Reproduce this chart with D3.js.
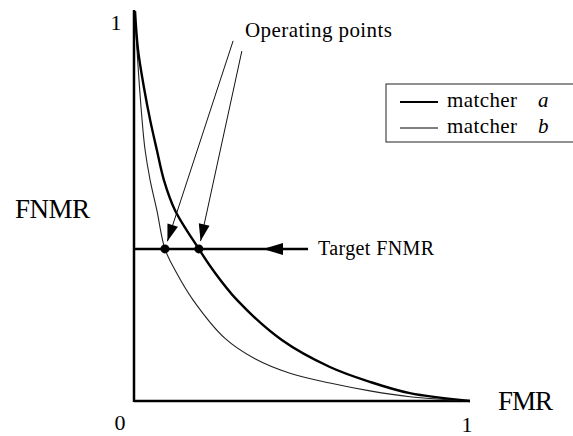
<!DOCTYPE html>
<html><head><meta charset="utf-8">
<script src="https://cdn.jsdelivr.net/npm/d3@7"></script>
<style>body{margin:0;background:#fff}svg{display:block}text{font-family:"Liberation Serif","Times New Roman",serif;fill:#000}</style>
</head><body><svg id="c" width="573" height="436"></svg>
<script>
// FMR (x) and FNMR (y) samples
const fmrA  = [0.003,0.012,0.030,0.048,0.068,0.089,0.122,0.193,0.235,0.307,0.440,0.583,0.702,0.821,1.0];
const fnmrA = [0.997,0.898,0.800,0.719,0.642,0.565,0.488,0.389,0.335,0.258,0.156,0.087,0.049,0.020,0.0];
const fmrB  = [0.003,0.009,0.024,0.033,0.048,0.068,0.092,0.122,0.176,0.271,0.360,0.464,0.583,0.702,0.821,1.0];
const fnmrB = [0.997,0.898,0.719,0.642,0.565,0.488,0.389,0.335,0.258,0.160,0.108,0.071,0.046,0.026,0.011,0.0];
const seriesNames = ["a","b"];
const targetFNMR = 0.389;
const operatingFMR = [0.092,0.193];
const xTickLabels = ["0","1"];
const yTickLabels = ["1"];
const labelStarts = [[0.295,0.921],[0.321,0.895]];

const svg = d3.select("#c");
const x = d3.scaleLinear().domain([0,1]).range([134,470]);
const y = d3.scaleLinear().domain([0,1]).range([401,10]);

// axes
svg.append("line").attr("x1",x(0)).attr("x2",x(0)).attr("y1",y(0)+1).attr("y2",y(1)).attr("stroke","#000").attr("stroke-width",2.5);
svg.append("line").attr("x1",x(0)).attr("x2",x(1)).attr("y1",y(0)).attr("y2",y(0)).attr("stroke","#000").attr("stroke-width",2.5);

const line = d3.line().x(d=>x(d[0])).y(d=>y(d[1])).curve(d3.curveCatmullRom.alpha(0.5));
svg.append("path").datum(fmrB.map((v,i)=>[v,fnmrB[i]])).attr("d",line).attr("fill","none").attr("stroke","#222").attr("stroke-width",1.1);
svg.append("path").datum(fmrA.map((v,i)=>[v,fnmrA[i]])).attr("d",line).attr("fill","none").attr("stroke","#000").attr("stroke-width",2.4);

// target line
const tEnd = 0.518;
svg.append("line").attr("x1",x(0)).attr("x2",x(tEnd)).attr("y1",y(targetFNMR)).attr("y2",y(targetFNMR)).attr("stroke","#000").attr("stroke-width",2.5);
function arrowHead(tx,ty,fx,fy,len,half){
  const a=Math.atan2(ty-fy,tx-fx);
  const bx=tx-len*Math.cos(a), by=ty-len*Math.sin(a);
  const px=-Math.sin(a)*half, py=Math.cos(a)*half;
  svg.append("path").attr("d",`M${tx},${ty}L${bx+px},${by+py}L${bx-px},${by-py}Z`).attr("fill","#000");
}
arrowHead(x(0.384),y(targetFNMR),x(tEnd),y(targetFNMR),20,6);
svg.append("text").attr("x",318).attr("y",y(targetFNMR)+6).attr("font-size",20).attr("textLength",116).text("Target FNMR");

// operating points
operatingFMR.forEach((f,i)=>{
  const cx=x(f), cy=y(targetFNMR);
  const sx=x(labelStarts[i][0]), sy=y(labelStarts[i][1]);
  const a=Math.atan2(cy-sy,cx-sx);
  const tx=cx-8*Math.cos(a), ty=cy-8*Math.sin(a);
  svg.append("line").attr("x1",sx).attr("y1",sy).attr("x2",tx).attr("y2",ty).attr("stroke","#111").attr("stroke-width",1);
  arrowHead(tx,ty,sx,sy,17,5.5);
  svg.append("circle").attr("cx",cx).attr("cy",cy).attr("r",4.5).attr("fill","#000");
});
svg.append("text").attr("x",245).attr("y",37).attr("font-size",21).attr("textLength",147).text("Operating points");

// tick labels and axis titles
svg.append("text").attr("x",x(0)-14).attr("y",430).attr("text-anchor","middle").attr("font-size",22).text(xTickLabels[0]);
svg.append("text").attr("x",x(1)-3).attr("y",432).attr("text-anchor","middle").attr("font-size",22).text(xTickLabels[1]);
svg.append("text").attr("x",x(0)-18).attr("y",y(1)+20).attr("text-anchor","middle").attr("font-size",22).text(yTickLabels[0]);
svg.append("text").attr("x",15).attr("y",218).attr("font-size",27).attr("textLength",75).text("FNMR");
svg.append("text").attr("x",498).attr("y",410).attr("font-size",27).attr("textLength",55).text("FMR");

// legend
svg.append("rect").attr("x",386).attr("y",84).attr("width",200).attr("height",58).attr("fill","none").attr("stroke","#222").attr("stroke-width",1);
seriesNames.forEach((s,i)=>{
  const ly=102+i*26;
  svg.append("line").attr("x1",400).attr("x2",438).attr("y1",ly).attr("y2",ly).attr("stroke","#000").attr("stroke-width",i===0?2:1);
  const t=svg.append("text").attr("x",447).attr("y",ly+5).attr("font-size",21);
  t.append("tspan").attr("textLength",70).text("matcher");
  t.append("tspan").attr("x",538).attr("font-style","italic").text(s);
});
</script></body></html>
